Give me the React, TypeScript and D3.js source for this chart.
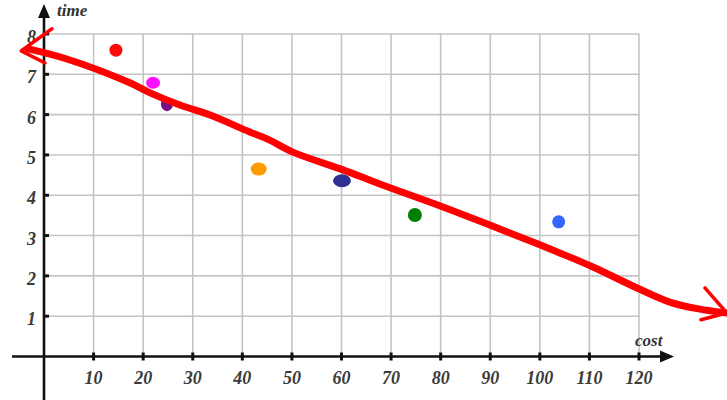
import React from "react";
import * as d3 from "d3";

const xTicks = [10, 20, 30, 40, 50, 60, 70, 80, 90, 100, 110, 120];
const yTicks = [1, 2, 3, 4, 5, 6, 7, 8];

const dotCost = [14.5, 22, 24.8, 43.3, 60.1, 74.8, 103.8];
const dotTime = [7.6, 6.79, 6.26, 4.65, 4.36, 3.51, 3.34];
const dotColors = ["#ff0a0a", "#ff10ff", "#76108a", "#ff9a00", "#2e3192", "#008000", "#3366ff"];
const dotRx = [6.5, 7, 6, 8, 9, 7, 6.5];
const dotRy = [6.5, 6, 7, 6.5, 6.5, 7, 6.5];

const lineCost = [-3.2, 4.6, 17.3, 21.4, 27.4, 33.5, 41.5, 45.0, 50.2, 60.3, 67.7, 79.8, 89.9, 100.0, 104.0, 110.7, 119.6, 126.2, 132.0, 137.7];
const lineTime = [7.63, 7.38, 6.79, 6.54, 6.24, 5.99, 5.57, 5.4, 5.07, 4.63, 4.28, 3.74, 3.26, 2.77, 2.57, 2.22, 1.7, 1.35, 1.18, 1.08];

const leftHeadCost = [1.6, -4.6, 0.2];
const leftHeadTime = [8.13, 7.58, 7.28];
const rightHeadCost = [133.3, 137.7, 132.5];
const rightHeadTime = [1.7, 1.08, 0.91];

export default function App() {
  const x = d3.scaleLinear().domain([0, 120]).range([44, 639]);
  const y = d3.scaleLinear().domain([0, 8]).range([356.5, 34]);

  const line = d3
    .line<number>()
    .x((_, i) => x(lineCost[i]))
    .y((_, i) => y(lineTime[i]))
    .curve(d3.curveCatmullRom.alpha(0.5));
  const headL = d3
    .line<number>()
    .x((_, i) => x(leftHeadCost[i]))
    .y((_, i) => y(leftHeadTime[i]));
  const headR = d3
    .line<number>()
    .x((_, i) => x(rightHeadCost[i]))
    .y((_, i) => y(rightHeadTime[i]));

  const x0 = x(0);
  const y0 = y(0);
  const fontLabel = "'Liberation Serif', 'DejaVu Serif', serif";

  return (
    <svg
      width={727}
      height={400}
      style={{ position: "fixed", left: 0, top: 0, background: "#fff" }}
    >
      <rect x={0} y={0} width={727} height={400} fill="#fff" />
      {/* grid */}
      <g stroke="#c4c4c4" strokeWidth={1.6}>
        {xTicks.map((t) => (
          <line key={"gx" + t} x1={x(t)} x2={x(t)} y1={y(8)} y2={y0} />
        ))}
        {yTicks.map((t) => (
          <line key={"gy" + t} x1={x0} x2={x(120)} y1={y(t)} y2={y(t)} />
        ))}
      </g>
      {/* axes */}
      <g stroke="#111" strokeWidth={2.6}>
        <line x1={12} x2={664} y1={y0} y2={y0} />
        <line x1={x0} x2={x0} y1={400} y2={14} />
      </g>
      <path d={`M${674},${y0} L${660},${y0 - 6} L${660},${y0 + 6} Z`} fill="#111" />
      <path d={`M${x0},${4} L${x0 - 6},${18} L${x0 + 6},${18} Z`} fill="#111" />
      {/* ticks */}
      <g stroke="#111" strokeWidth={3}>
        {xTicks.map((t) => (
          <line key={"tx" + t} x1={x(t)} x2={x(t)} y1={y0 - 4} y2={y0 + 4} />
        ))}
        {yTicks.map((t) => (
          <line key={"ty" + t} x1={x0 - 1} x2={x0 + 5} y1={y(t)} y2={y(t)} />
        ))}
      </g>
      {/* tick labels */}
      <g
        fontFamily={fontLabel}
        fontStyle="italic"
        fontWeight="bold"
        fill="#3a3a3a"
        fontSize={18}
      >
        {xTicks.map((t) => (
          <text key={"lx" + t} x={x(t)} y={y0 + 27} textAnchor="middle">
            {t}
          </text>
        ))}
        {yTicks.map((t) => (
          <text key={"ly" + t} x={36} y={y(t) + 9} textAnchor="end">
            {t}
          </text>
        ))}
      </g>
      <text
        x={57}
        y={16}
        fontFamily={fontLabel}
        fontStyle="italic"
        fontWeight="bold"
        fontSize={17}
        fill="#333"
      >
        time
      </text>
      <text
        x={635}
        y={346}
        fontFamily={fontLabel}
        fontStyle="italic"
        fontWeight="bold"
        fontSize={17}
        fill="#333"
      >
        cost
      </text>
      {/* dots */}
      {dotCost.map((c, i) => (
        <ellipse
          key={"d" + i}
          cx={x(c)}
          cy={y(dotTime[i])}
          rx={dotRx[i]}
          ry={dotRy[i]}
          fill={dotColors[i]}
        />
      ))}
      {/* trend line */}
      <path
        d={line(lineCost) || ""}
        fill="none"
        stroke="#ff0000"
        strokeWidth={7}
        strokeLinecap="round"
        strokeLinejoin="round"
      />
      <path
        d={headL(leftHeadCost) || ""}
        fill="none"
        stroke="#ff0000"
        strokeWidth={3.5}
        strokeLinecap="round"
        strokeLinejoin="round"
      />
      <path
        d={headR(rightHeadCost) || ""}
        fill="none"
        stroke="#ff0000"
        strokeWidth={3.5}
        strokeLinecap="round"
        strokeLinejoin="round"
      />
    </svg>
  );
}
